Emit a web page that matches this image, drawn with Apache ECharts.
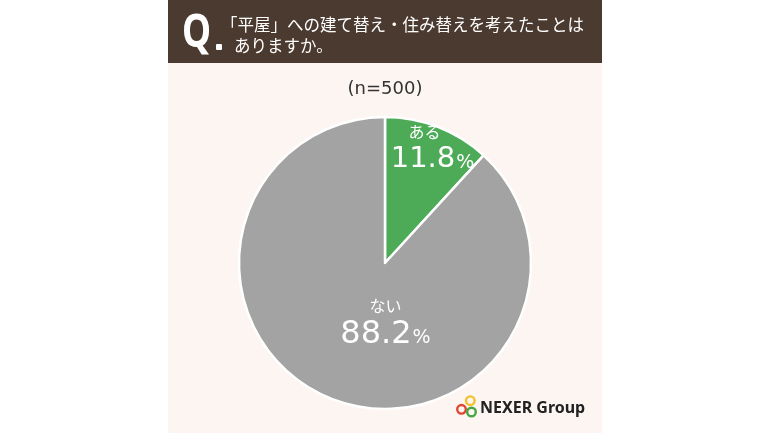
<!DOCTYPE html>
<html>
<head>
<meta charset="utf-8">
<script src="https://cdn.jsdelivr.net/npm/echarts@6/dist/echarts.min.js"></script>
<style>
html,body{margin:0;padding:0;background:#ffffff;}
#chart{width:770px;height:433px;}
</style>
</head>
<body>
<div id="chart"></div>
<script>
var categories = ['ある', 'ない'];
var values = [11.8, 88.2];
var colors = ['#4dab58', '#a3a3a3'];
var titleLines = ['「平屋」への建て替え・住み替えを考えたことは', 'ありますか。'];
var sampleText = '(n=500)';
var brandText = 'NEXER Group';

var labelOffsets = [[20, -44], [28, -11]];
var nameStyles = ['f', 'a'];
var numStyles = ['b', 'd'];
var pctStyles = ['c', 'e'];

var chart = echarts.init(document.getElementById('chart'), null, {renderer: 'canvas'});

var data = categories.map(function (c, i) {
  return {
    name: c,
    value: values[i],
    itemStyle: {color: colors[i]},
    label: {offset: labelOffsets[i]}
  };
});

var jpFont = '"Noto Sans CJK JP", "Noto Sans", sans-serif';
var numFont = '"DejaVu Sans", sans-serif';

chart.setOption({
  backgroundColor: '#ffffff',
  animation: false,
  graphic: [
    {type: 'rect', shape: {x: 168, y: 0, width: 434, height: 433}, style: {fill: '#fcf5f2'}, z: 0},
    {type: 'rect', shape: {x: 168, y: 0, width: 434, height: 63}, style: {fill: '#4b3a30'}, z: 1},
    {type: 'text', x: 182, y: 11, scaleX: 0.8, style: {text: 'Q', fill: '#ffffff', font: 'bold 46px "Noto Sans", sans-serif'}, z: 2},
    {type: 'rect', shape: {x: 216, y: 44, width: 6, height: 6, r: 1}, style: {fill: '#ffffff'}, z: 2},
    {type: 'text', x: 221, y: 25, style: {text: titleLines[0], fill: '#ffffff', font: '16.5px ' + jpFont, verticalAlign: 'middle'}, z: 2},
    {type: 'text', x: 234, y: 46, style: {text: titleLines[1], fill: '#ffffff', font: '16.5px ' + jpFont, verticalAlign: 'middle'}, z: 2},
    {type: 'text', x: 385, y: 89, style: {text: sampleText, fill: '#333333', font: '18px "DejaVu Sans", sans-serif', align: 'center', verticalAlign: 'middle'}, z: 2},
    {type: 'circle', shape: {cx: 470.3, cy: 400.7, r: 4.3}, style: {fill: 'none', stroke: '#f2c12e', lineWidth: 2.4}, z: 2},
    {type: 'circle', shape: {cx: 461.5, cy: 409.3, r: 4.3}, style: {fill: 'none', stroke: '#e2452f', lineWidth: 2.4}, z: 3},
    {type: 'circle', shape: {cx: 471.5, cy: 412, r: 4.3}, style: {fill: 'none', stroke: '#45a845', lineWidth: 2.4}, z: 3},
    {type: 'text', x: 480, y: 408, style: {text: brandText, fill: '#222222', font: 'bold 16px "Noto Sans", sans-serif', verticalAlign: 'middle'}, z: 2}
  ],
  series: [{
    type: 'pie',
    center: [385, 263],
    radius: [0, 146],
    startAngle: 90,
    clockwise: true,
    z: 5,
    itemStyle: {borderColor: '#ffffff', borderWidth: 2.5},
    emphasis: {disabled: true},
    label: {
      show: true,
      position: 'inside',
      color: '#ffffff',
      formatter: function (p) {
        var i = p.dataIndex;
        return '{' + nameStyles[i] + '|' + p.name + '}\n{' + numStyles[i] + '|' + p.value.toFixed(1) + '}{' + pctStyles[i] + '|%}';
      },
      rich: {
        a: {fontSize: 16, fontFamily: jpFont, color: '#ffffff', lineHeight: 24, align: 'center'},
        f: {fontSize: 16, fontFamily: jpFont, color: '#ffffff', lineHeight: 22, align: 'center', padding: [0, 16, 0, 0]},
        b: {fontSize: 29, fontFamily: numFont, color: '#ffffff', lineHeight: 32},
        c: {fontSize: 19, fontFamily: numFont, color: '#ffffff', lineHeight: 32, verticalAlign: 'bottom', padding: [0, 0, 3, 1]},
        d: {fontSize: 32, fontFamily: numFont, color: '#ffffff', lineHeight: 34},
        e: {fontSize: 19, fontFamily: numFont, color: '#ffffff', lineHeight: 34, verticalAlign: 'bottom', padding: [0, 0, 4, 1]}
      }
    },
    labelLine: {show: false},
    data: data
  }]
});
</script>
</body>
</html>
